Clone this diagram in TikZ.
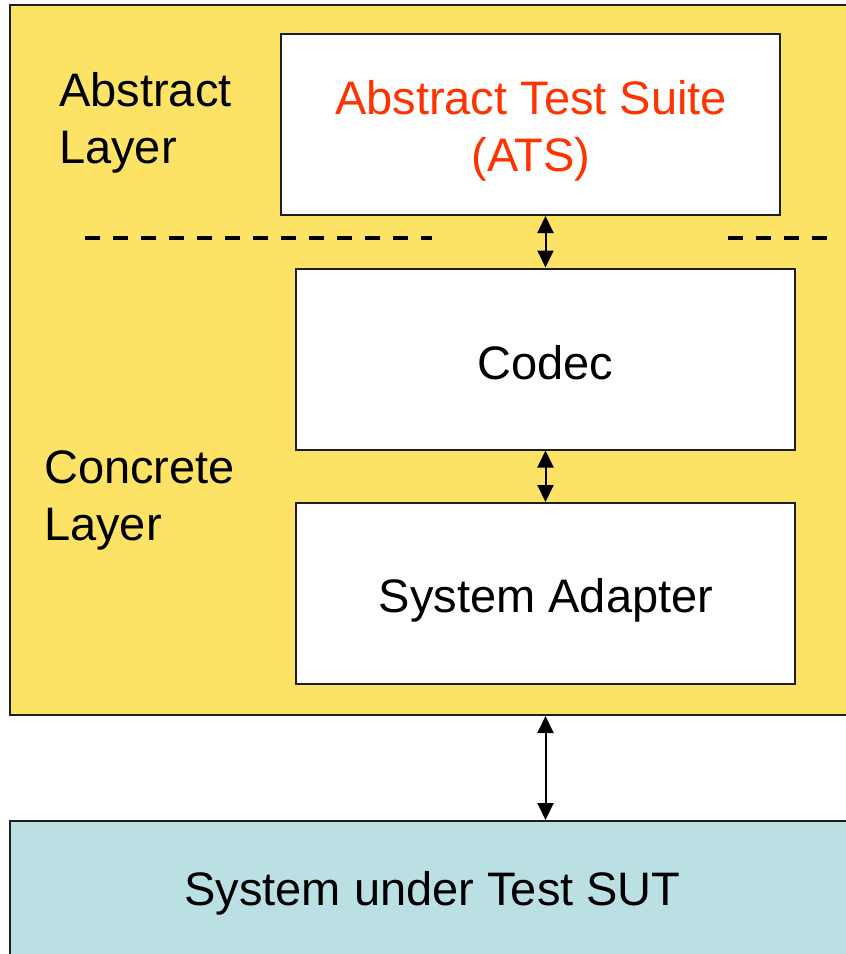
\documentclass[tikz,border=0pt]{standalone}
\usepackage{fontspec}
\setmainfont{Liberation Sans}
\usetikzlibrary{arrows.meta}
\definecolor{layeryellow}{RGB}{252,227,102}
\definecolor{sutblue}{RGB}{187,224,227}
\definecolor{atsred}{RGB}{255,51,0}
\definecolor{edge}{RGB}{30,30,30}
\tikzset{
  box/.style={draw=edge, line width=2pt, fill=white, minimum width=499pt, minimum height=181pt, inner sep=0pt},
  txt/.style={anchor=north, align=center, inner sep=0pt, font=\fontsize{47}{57}\selectfont},
  lbl/.style={anchor=north west, align=left, inner sep=0pt, font=\fontsize{47}{57}\selectfont},
  biarrow/.style={line width=2pt, {Triangle[length=17pt,width=16pt]}-{Triangle[length=17pt,width=16pt]}},
  sep/.style={line width=4pt, dash pattern=on 15pt off 13pt}
}
\begin{document}
\begin{tikzpicture}[x=1pt,y=-1pt]
\useasboundingbox (0,0) rectangle (846,954);
\clip (0,0) rectangle (846,954);
\node[draw=edge, line width=2pt, fill=layeryellow, minimum width=860pt, minimum height=710pt, inner sep=0pt, anchor=north west] (outer) at (9,4) {};
\node[draw=edge, line width=2pt, fill=sutblue, minimum width=860pt, minimum height=150pt, inner sep=0pt, anchor=north west] (sutbox) at (9,820) {};
\node[txt] (sut) at (432.5,871) {System under Test SUT};
\node[box] (ats) at (530.5,124.5) {};
\node[txt, text=atsred] (atstext) at (531,80) {Abstract Test Suite\\(ATS)};
\node[box] (codec) at (545.5,359) {};
\node[txt] (codectext) at (545.5,345) {Codec};
\node[box] (sa) at (545.5,593.5) {};
\node[txt] (satext) at (546,578) {System Adapter};
\node[lbl] (abs) at (59,72) {Abstract\\Layer};
\node[lbl] (con) at (44,450) {Concrete\\Layer};
\draw[sep] (85,238) -- (432,238);
\draw[sep] (728,238) -- (830,238);
\draw[biarrow] (ats.south -| codec) -- (codec.north);
\draw[biarrow] (codec.south) -- (sa.north);
\draw[biarrow] (outer.south -| sa) -- (sutbox.north -| sa);
\end{tikzpicture}
\end{document}
